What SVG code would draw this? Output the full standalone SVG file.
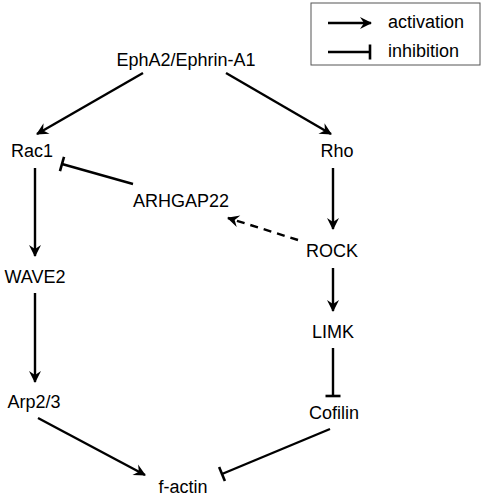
<svg xmlns="http://www.w3.org/2000/svg" width="485" height="499" viewBox="0 0 485 499">
<defs>
<style>
text{font-family:"Liberation Sans",Arial,sans-serif;font-size:18px;fill:#000;text-anchor:middle}
.leg{text-anchor:start}
.c{stroke:#000;stroke-width:2.4;fill:none}
.act{marker-end:url(#arr)}
.inh{marker-end:url(#bar)}
.dash{stroke-dasharray:8,6}
</style>
<marker id="arr" markerWidth="16" markerHeight="14" refX="12" refY="7" orient="auto" markerUnits="userSpaceOnUse">
<path d="M1,1 L13,7 L1,13 L5,7 Z" fill="#000"/>
</marker>
<marker id="bar" markerWidth="6" markerHeight="18" refX="3" refY="9" orient="auto" markerUnits="userSpaceOnUse">
<path d="M3,1.5 L3,16.5" stroke="#000" stroke-width="2.6"/>
</marker>
</defs>
<rect width="485" height="499" fill="#fff"/>
<g id="legend">
<rect x="311" y="3" width="169" height="62" fill="#fff" stroke="#555" stroke-width="1"/>
<line class="c act" x1="328" y1="23" x2="371" y2="23"/>
<text class="leg" x="388" y="28">activation</text>
<line class="c inh" x1="328" y1="52" x2="370" y2="52"/>
<text class="leg" x="388" y="57">inhibition</text>
</g>
<g id="nodes">
<g id="ephA2"><text x="186" y="66">EphA2/Ephrin-A1</text></g>
<g id="rac1"><text x="32" y="157">Rac1</text></g>
<g id="rho"><text x="337" y="157">Rho</text></g>
<g id="arhgap22"><text x="181" y="207">ARHGAP22</text></g>
<g id="rock"><text x="332" y="257">ROCK</text></g>
<g id="wave2"><text x="35" y="283">WAVE2</text></g>
<g id="limk"><text x="333" y="338">LIMK</text></g>
<g id="arp23"><text x="34" y="408">Arp2/3</text></g>
<g id="cofilin"><text x="334" y="419">Cofilin</text></g>
<g id="factin"><text x="183" y="493">f-actin</text></g>
</g>
<g id="connectors">
<line class="c act" x1="143" y1="73" x2="37" y2="134"/>
<line class="c act" x1="226" y1="73" x2="331" y2="134"/>
<line class="c inh" x1="133" y1="184" x2="62" y2="164"/>
<line class="c act" x1="35" y1="168" x2="35" y2="256"/>
<line class="c act" x1="35" y1="293" x2="35" y2="382"/>
<line class="c act" x1="38" y1="418" x2="145" y2="475"/>
<line class="c inh" x1="330" y1="429" x2="222" y2="474"/>
<line class="c act" x1="333" y1="168" x2="333" y2="229"/>
<line class="c act dash" x1="298" y1="240" x2="228" y2="218"/>
<line class="c act" x1="333" y1="268" x2="333" y2="311"/>
<line class="c inh" x1="333" y1="348" x2="333" y2="396"/>
</g>
</svg>
